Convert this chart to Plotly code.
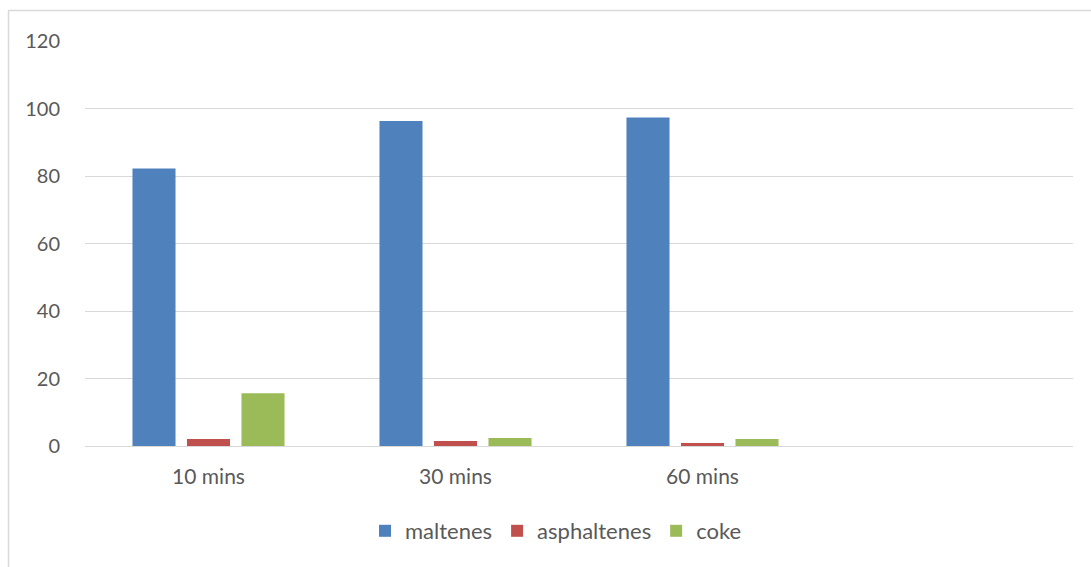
import plotly.graph_objects as go

# Product distribution by reaction time
categories = ["10 mins", "30 mins", "60 mins", " "]
maltenes = [82.2, 96.3, 97.3]
asphaltenes = [2.1, 1.5, 0.9]
coke = [15.6, 2.4, 2.1]

series = [
    ("maltenes", maltenes, "#4F81BD"),
    ("asphaltenes", asphaltenes, "#C0504D"),
    ("coke", coke, "#9BBB59"),
]

FONT = "Lato"
TXT = "#595959"

fig = go.Figure()
for name, vals, color in series:
    fig.add_trace(go.Bar(
        name=name,
        x=categories[:len(vals)],
        y=vals,
        marker=dict(color=color, line=dict(width=0)),
    ))

W, H = 1091, 567
L, R, T, B = 85, 18, 41, 121
pw, ph = W - L - R, H - T - B


def px_x(p):
    return (p - L) / pw


def px_y(p):
    return (H - B - p) / ph


fig.update_layout(
    width=W,
    height=H,
    margin=dict(l=L, r=R, t=T, b=B),
    paper_bgcolor="white",
    plot_bgcolor="white",
    barmode="group",
    bargap=0.338,
    bargroupgap=0.21,
    font=dict(family=FONT, size=20, color=TXT),
    showlegend=True,
    legend=dict(
        orientation="h",
        x=px_x(556), xanchor="center",
        y=px_y(531), yanchor="middle",
        font=dict(family=FONT, size=22, color=TXT),
        itemwidth=30,
        traceorder="normal",
    ),
    xaxis=dict(
        type="category",
        categoryorder="array",
        categoryarray=categories,
        range=[-0.5, 3.5],
        showgrid=False,
        showline=True,
        linecolor="#D9D9D9",
        linewidth=1,
        ticks="outside",
        ticklen=12,
        tickcolor="rgba(0,0,0,0)",
        tickfont=dict(family=FONT, size=21, color=TXT),
    ),
    yaxis=dict(
        range=[0, 120],
        dtick=20,
        showgrid=True,
        gridcolor="#D9D9D9",
        gridwidth=1,
        zeroline=False,
        showline=False,
        ticks="outside",
        ticklen=20,
        tickcolor="rgba(0,0,0,0)",
        tickfont=dict(family=FONT, size=20, color=TXT),
    ),
    shapes=[
        dict(type="line", xref="paper", yref="paper",
             x0=px_x(8), x1=px_x(1091), y0=px_y(10.5), y1=px_y(10.5),
             line=dict(color="#D9D9D9", width=1.5)),
        dict(type="line", xref="paper", yref="paper",
             x0=px_x(8.5), x1=px_x(8.5), y0=px_y(10), y1=px_y(567),
             line=dict(color="#D9D9D9", width=1.5)),
    ],
)

fig.write_html("out.html")
